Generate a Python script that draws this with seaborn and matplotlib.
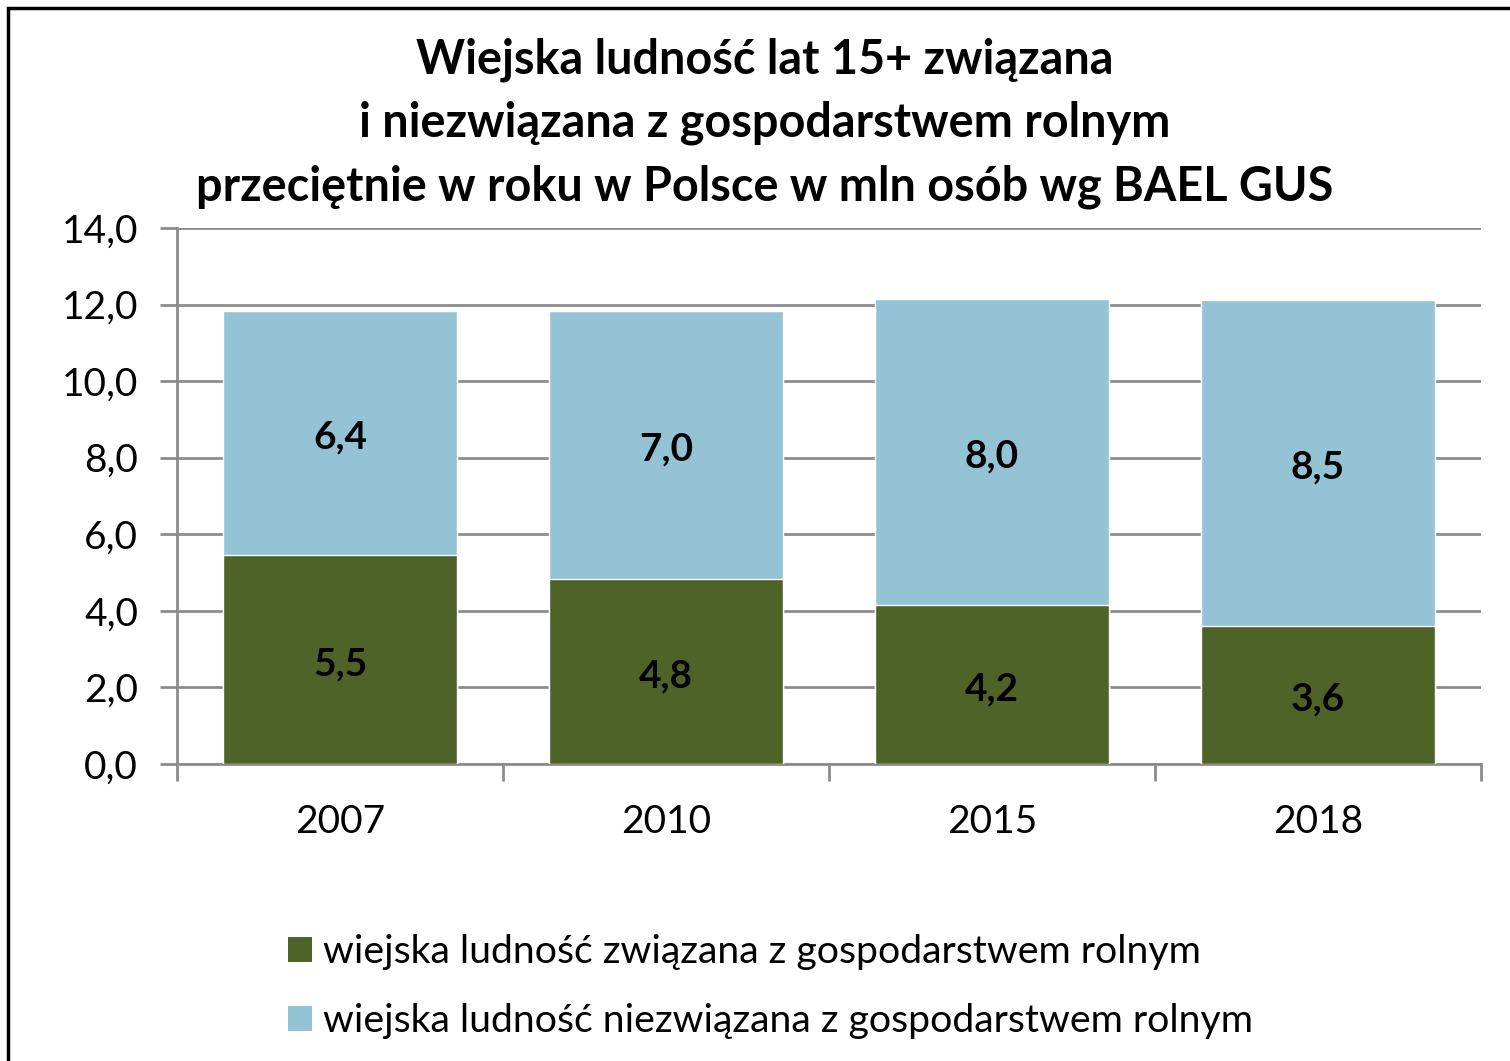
import matplotlib
matplotlib.use("Agg")
import matplotlib.pyplot as plt
import seaborn as sns
import pandas as pd
from matplotlib.patches import Patch, Rectangle

years = ["2007", "2010", "2015", "2018"]
zwiazana = [5.46, 4.83, 4.16, 3.60]
niezwiazana = [6.37, 7.00, 7.99, 8.52]
series_names = ["wiejska ludność związana z gospodarstwem rolnym",
                "wiejska ludność niezwiązana z gospodarstwem rolnym"]
title = ("Wiejska ludność lat 15+ związana\n"
         "i niezwiązana z gospodarstwem rolnym\n"
         "przeciętnie w roku w Polsce w mln osób wg BAEL GUS")
yticks = [0, 2, 4, 6, 8, 10, 12, 14]

GREEN = "#4F6228"
BLUE = "#93C3D5"
GRID = "#8C8C8C"

sns.set_theme(style="white")
plt.rcParams["font.family"] = ["Lato", "DejaVu Sans"]
plt.rcParams["text.color"] = "black"
plt.rcParams["xtick.labelcolor"] = "black"
plt.rcParams["ytick.labelcolor"] = "black"

df = pd.DataFrame({"year": years, "z": zwiazana, "n": niezwiazana})
df["total"] = df["z"] + df["n"]

fig = plt.figure(figsize=(15.1, 10.61), dpi=100)
ax = fig.add_axes([177/1510, 1-764/1061, (1481-177)/1510, (764-228)/1061])

sns.barplot(data=df, x="year", y="total", color=BLUE, saturation=1, width=0.715, ax=ax, zorder=3)
sns.barplot(data=df, x="year", y="z", color=GREEN, saturation=1, width=0.715, ax=ax, zorder=3)

ax.set_xlim(-0.5, 3.5)
ax.set_ylim(0, 14)
ax.set_yticks(yticks)
ax.set_yticklabels([f"{v:.1f}".replace(".", ",") for v in yticks], fontsize=28)
ax.set_xlabel("")
ax.set_ylabel("")
ax.tick_params(axis="x", which="major", length=0, labelsize=28, pad=29, labelcolor="black")
ax.tick_params(axis="y", which="major", length=12, width=2, color=GRID, labelsize=28, pad=16,
               left=True, labelcolor="black")
ax.set_xticks([-0.5, 0.5, 1.5, 2.5, 3.5], minor=True)
ax.tick_params(axis="x", which="minor", length=12, width=2, color=GRID, bottom=True)
ax.yaxis.grid(True, color=GRID, linewidth=2, zorder=0)
ax.set_axisbelow(True)
for s in ["top", "right"]:
    ax.spines[s].set_visible(False)
for s in ["left", "bottom"]:
    ax.spines[s].set_color(GRID)
    ax.spines[s].set_linewidth(2)

for i in range(len(years)):
    z = zwiazana[i]
    n = niezwiazana[i]
    ax.annotate(f"{z:.1f}".replace(".", ","), xy=(i, z / 2), xytext=(0, -3),
                textcoords="offset points", ha="center", va="center",
                fontsize=28, fontweight="bold", color="black", zorder=5)
    ax.annotate(f"{n:.1f}".replace(".", ","), xy=(i, z + n / 2), xytext=(0, -3),
                textcoords="offset points", ha="center", va="center",
                fontsize=28, fontweight="bold", color="black", zorder=5)

fig.text(765/1510, 1-123/1061, title, ha="center", va="center", fontsize=33.7,
         fontweight="bold", linespacing=1.53, color="black")

handles = [Patch(facecolor=GREEN, edgecolor="none"), Patch(facecolor=BLUE, edgecolor="none")]
leg = fig.legend(handles, series_names, loc="upper left", bbox_to_anchor=(288/1510, 1-934/1061),
                 frameon=False, fontsize=28.3, handlelength=0.6, handleheight=0.6,
                 handletextpad=0.3, labelspacing=0.85, borderaxespad=0, borderpad=0)
for t in leg.get_texts():
    t.set_color("black")

fig.patches.append(Rectangle((8/1510, -0.1), 1.2, 1 - 8/1061 + 0.1, transform=fig.transFigure,
                             fill=False, edgecolor="black", linewidth=2.5, zorder=10))

fig.savefig("out.png", dpi=100)
